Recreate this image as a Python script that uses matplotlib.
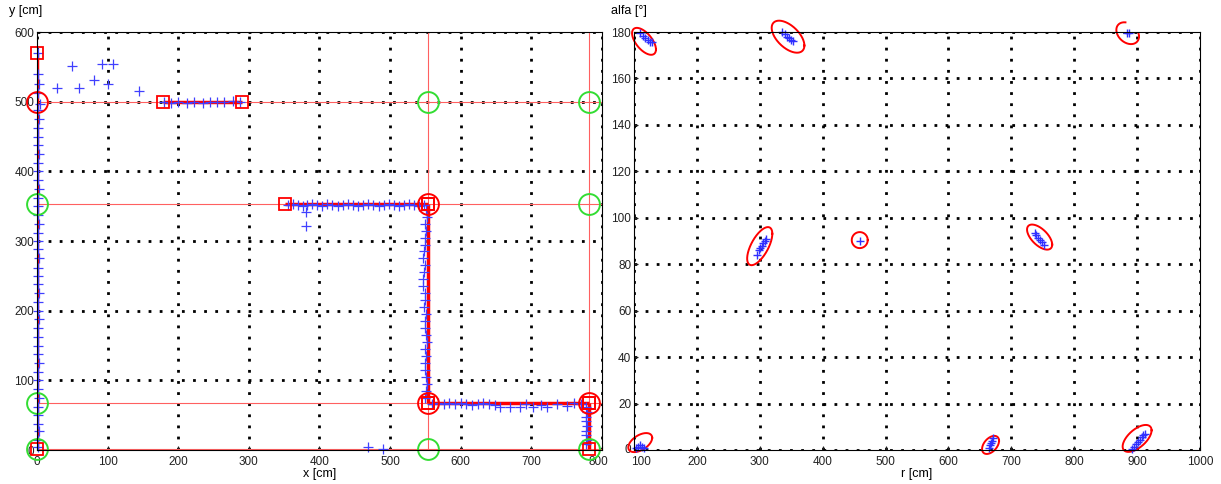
import matplotlib
matplotlib.use('Agg')
import matplotlib.pyplot as plt
import matplotlib.transforms as mtransforms
import numpy as np

plt.rcParams['font.family'] = ['Liberation Sans', 'DejaVu Sans']

# ---------- datos: mapa de lineas (x, y en cm) ----------
# segmentos extraidos (inicio x, inicio y, fin x, fin y)
seg_x0 = [0, 178, 351, 553, 553, 781]
seg_y0 = [1, 500, 353, 353, 67, 67]
seg_x1 = [0, 291, 553, 553, 781, 781]
seg_y1 = [570, 500, 353, 67, 67, 1]

# lineas modelo (infinitas)
lin_vert = [553, 781]
lin_horiz = [1, 67, 353, 500]

# esquinas detectadas / esquinas previstas
esq_roja_x = [0, 553, 553, 781]
esq_roja_y = [500, 353, 67, 67]
esq_verde_x = [0, 0, 0, 553, 781, 781, 553, 781]
esq_verde_y = [1, 67, 353, 500, 500, 353, 1, 1]

# puntos de medicion (+ azules)
med_x = [2, 1, 3, 2, 1, 2, 3, 2, 1, 2, 3, 2, 1, 2, 2, 3, 1, 2, 3, 2, 1, 2, 3, 2, 1,
         2, 3, 2, 1, 2, 3, 2, 1, 2, 3, 2, 1, 2, 3, 2, 4, 2, 3, 2, 2,
         28, 50, 59, 81, 92, 108, 101, 145,
         180, 190, 200, 212, 222, 235, 245, 255, 265, 278, 288,
         381, 381,
         356, 362, 369, 376, 383, 390, 397, 404, 411, 418, 426, 433, 440, 447, 455,
         462, 469, 476, 484, 491, 498, 505, 512, 520, 527, 534, 541, 548,
         551, 552, 550, 551, 549, 550, 548, 547, 549, 548, 546, 547, 549, 550, 548,
         551, 550, 549, 551, 552, 550, 551, 549, 550, 551, 552, 551, 550,
         560, 568, 576, 584, 592, 600, 608, 616, 624, 632, 640, 648, 656, 670, 684,
         703, 722, 750, 692, 714, 736, 760, 770,
         778, 779, 777, 778, 779, 778, 777, 779, 778,
         469, 490]
med_y = [5, 15, 27, 38, 50, 62, 75, 88, 100, 112, 125, 138, 150, 162, 175, 188, 200,
         212, 225, 238, 250, 262, 275, 288, 300, 312, 325, 338, 350, 362, 375, 388,
         400, 412, 425, 438, 450, 462, 475, 488, 497, 512, 525, 540, 570,
         520, 551, 520, 531, 554, 554, 525, 515,
         499, 498, 499, 498, 499, 498, 499, 500, 499, 501, 500,
         341, 322,
         352, 353, 352, 351, 352, 353, 352, 351, 353, 352, 351, 352, 353, 352, 351,
         352, 353, 352, 351, 352, 353, 352, 351, 352, 353, 352, 351, 352,
         345, 335, 325, 315, 305, 295, 285, 275, 265, 255, 245, 235, 225, 215, 205,
         195, 185, 175, 165, 155, 145, 135, 125, 115, 105, 95, 85, 75,
         66, 67, 66, 67, 66, 67, 66, 65, 66, 67, 66, 64, 62, 62, 62,
         62, 62, 63, 66, 65, 66, 67, 66,
         62, 55, 48, 42, 35, 28, 21, 14, 8,
         4, 2]

# ---------- datos: espacio de parametros (r, alfa) ----------
clus_r = [110, 114, 118, 122, 126, 129,
          336, 340, 344, 347, 350, 353,
          884, 887,
          296, 299, 301, 303, 305, 308, 310,
          459,
          737, 740, 743, 746, 749, 752,
          104, 107, 110, 113, 116,
          664, 666, 668, 670, 671,
          892, 895, 898, 901, 904, 907, 910, 913]
clus_a = [179.5, 178.5, 177.5, 176.5, 175.8, 175.5,
          180, 179, 178, 177.5, 176.5, 176,
          179.8, 179.5,
          84, 86, 87, 88, 89, 90, 91,
          90,
          93.5, 92.5, 91.5, 90.5, 89.5, 88.5,
          1, 1.5, 2, 1.5, 1,
          1, 2, 3, 4, 5,
          0.5, 1.5, 2.5, 3.5, 4.5, 5.5, 6.5, 7]

# elipses de incertidumbre: centro, desviaciones y correlacion
elip_r = [116, 345, 885, 300, 459, 745, 110, 667, 900]
elip_a = [176, 178, 179.5, 87.8, 90.4, 91.7, 3.2, 2.2, 5.0]
elip_sr = [19, 26, 18, 20, 12.7, 20, 19, 13.5, 23]
elip_sa = [5.8, 6.9, 4.7, 8.2, 3.45, 5.4, 4.1, 3.9, 5.8]
elip_rho = [-0.6, -0.55, -0.3, 0.65, 0.0, -0.6, 0.5, 0.45, 0.6]

fig = plt.figure(figsize=(12.21, 4.84), dpi=100)
ax1 = fig.add_axes([0.0303, 0.0702, 0.4627, 0.8636])
ax2 = fig.add_axes([0.5192, 0.0702, 0.4636, 0.8636])

def estilo(ax):
    ax.grid(True, color='k', linestyle=(0, (1, 3)), linewidth=2)
    ax.set_axisbelow(True)
    ax.tick_params(direction='in', length=3, labelsize=8.5, pad=2, colors='#222222')
    ax.tick_params(axis='x', pad=4)
    for s in ax.spines.values():
        s.set_linewidth(0.8)

# ---- panel izquierdo ----
for xv in lin_vert:
    ax1.axvline(xv, color='#ff6060', lw=0.8)
for yv in lin_horiz:
    ax1.axhline(yv, color='#ff6060', lw=0.8)
for i in range(len(seg_x0)):
    ax1.plot([seg_x0[i], seg_x1[i]], [seg_y0[i], seg_y1[i]], color='red', lw=2.5,
             solid_capstyle='butt')
ax1.plot(med_x, med_y, '+', color='#4040ff', ms=7, mew=0.9, clip_on=False)
ax1.plot(seg_x0 + seg_x1, seg_y0 + seg_y1, 's', mfc='none', mec='red', ms=9, mew=1.3,
         clip_on=False)
ax1.plot(esq_roja_x, esq_roja_y, 'o', mfc='none', mec='red', ms=15, mew=1.4, clip_on=False)
ax1.plot(esq_verde_x, esq_verde_y, 'o', mfc='none', mec='#33dd33', ms=15, mew=1.4,
         clip_on=False)
ax1.set_xlim(0, 800)
ax1.set_ylim(0, 600)
ax1.set_xticks(np.arange(0, 801, 100))
ax1.set_yticks(np.arange(0, 601, 100))
estilo(ax1)
ax1.set_xlabel('x [cm]', fontsize=9, labelpad=0)
ax1.text(-0.05, 1.035, 'y [cm]', transform=ax1.transAxes, fontsize=9, va='bottom')

# ---- panel derecho ----
t = np.linspace(0, 2 * np.pi, 200)
for i in range(len(elip_r)):
    cov = np.array([[elip_sr[i] ** 2, elip_rho[i] * elip_sr[i] * elip_sa[i]],
                    [elip_rho[i] * elip_sr[i] * elip_sa[i], elip_sa[i] ** 2]])
    L = np.linalg.cholesky(cov + np.eye(2) * 1e-9)
    pts = L @ np.vstack([np.cos(t), np.sin(t)])
    er = elip_r[i] + pts[0]
    ea = elip_a[i] + pts[1]
    if i == 2:
        # parte superior cortada (paso de 180 a 0)
        ea = np.where((ea > 179.5) & (er > elip_r[i] - 3), np.nan, ea)
    ax2.plot(er, ea, color='red', lw=1.4, clip_on=False)
ax2.plot(clus_r, clus_a, '+', color='#3030ff', ms=6, mew=1.0, clip_on=False)
ax2.set_xlim(100, 1000)
ax2.set_ylim(0, 180)
ax2.set_xticks(np.arange(100, 1001, 100))
ax2.set_yticks(np.arange(0, 181, 20))
estilo(ax2)
ax2.set_xlabel('r [cm]', fontsize=9, labelpad=0)
ax2.text(-0.04, 1.035, 'alfa [°]', transform=ax2.transAxes, fontsize=9, va='bottom')

# separar un poco las etiquetas que se tocan entre paneles
fig.canvas.draw()
izq = ax1.get_xticklabels()[-1]
izq.set_transform(izq.get_transform() + mtransforms.ScaledTranslation(-4 / 100, 0, fig.dpi_scale_trans))
der = ax2.get_xticklabels()[0]
der.set_transform(der.get_transform() + mtransforms.ScaledTranslation(7 / 100, 0, fig.dpi_scale_trans))
cero = ax2.get_yticklabels()[0]
cero.set_transform(cero.get_transform() + mtransforms.ScaledTranslation(0, 2 / 100, fig.dpi_scale_trans))

fig.savefig('out.png', dpi=100)
plt.close('all')
